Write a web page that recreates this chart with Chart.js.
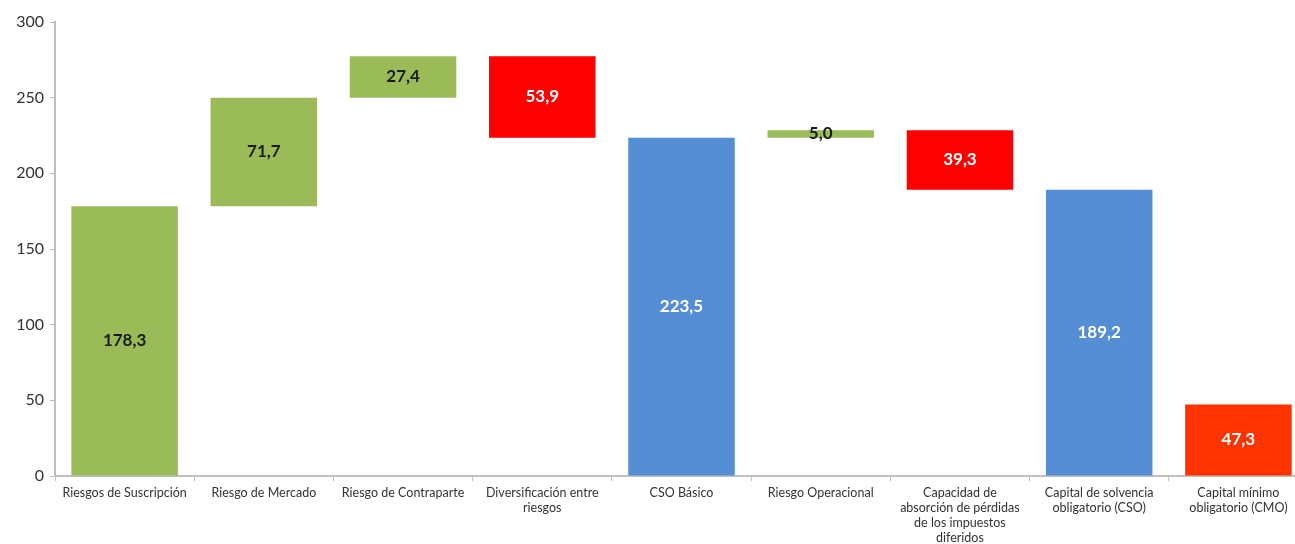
<!DOCTYPE html>
<html>
<head>
<meta charset="utf-8">
<script src="https://cdn.jsdelivr.net/npm/chart.js@4/dist/chart.umd.min.js"></script>
<style>
  html, body { margin: 0; padding: 0; background: #fff; overflow: hidden; }
  #wrap { width: 1308px; height: 544px; }
</style>
</head>
<body>
<div id="wrap"><canvas id="chart"></canvas></div>
<script>
const categories = [
    'Riesgos de Suscripción',
    'Riesgo de Mercado',
    'Riesgo de Contraparte',
    ['Diversificación entre', 'riesgos'],
    'CSO Básico',
    'Riesgo Operacional',
    ['Capacidad de', 'absorción de pérdidas', 'de los impuestos', 'diferidos'],
    ['Capital de solvencia', 'obligatorio (CSO)'],
    ['Capital mínimo', 'obligatorio (CMO)']
];
const barStart = [0, 178.3, 250.0, 223.5, 0, 223.5, 189.2, 0, 0];
const barEnd = [178.3, 250.0, 277.4, 277.4, 223.5, 228.5, 228.5, 189.2, 47.3];
const barLabels = ['178,3', '71,7', '27,4', '53,9', '223,5', '5,0', '39,3', '189,2', '47,3'];
const barColors = ['#9BBB59', '#9BBB59', '#9BBB59', '#FF0000', '#558ED5', '#9BBB59', '#FF0000', '#558ED5', '#FF3300'];
const labelColors = ['#1a1a1a', '#1a1a1a', '#1a1a1a', '#ffffff', '#ffffff', '#1a1a1a', '#ffffff', '#ffffff', '#ffffff'];
const yTicks = [0, 50, 100, 150, 200, 250, 300];

const fontFamily = 'Lato, "Noto Sans", sans-serif';

// draws the value inside each floating bar
const barValuePlugin = {
    id: 'barValues',
    afterDatasetsDraw(chart) {
        const ctx = chart.ctx;
        const meta = chart.getDatasetMeta(0);
        ctx.save();
        ctx.font = 'bold 17px ' + fontFamily;
        ctx.textAlign = 'center';
        ctx.textBaseline = 'middle';
        meta.data.forEach((bar, i) => {
            const p = bar.getProps(['x', 'y', 'base'], true);
            ctx.fillStyle = labelColors[i];
            ctx.fillText(barLabels[i], p.x, (p.y + p.base) / 2);
        });
        ctx.restore();
    }
};

new Chart(document.getElementById('chart'), {
    type: 'bar',
    data: {
        labels: categories,
        datasets: [{
            data: barStart.map((s, i) => [s, barEnd[i]]),
            backgroundColor: barColors,
            borderWidth: 0,
            categoryPercentage: 1,
            barPercentage: 0.765
        }]
    },
    options: {
        responsive: true,
        maintainAspectRatio: false,
        animation: false,
        layout: { padding: { top: 22, right: 0, left: 0, bottom: 0 } },
        plugins: {
            legend: { display: false },
            tooltip: { enabled: false }
        },
        scales: {
            x: {
                grid: {
                    display: true,
                    offset: true,
                    drawOnChartArea: false,
                    drawTicks: true,
                    tickLength: 5,
                    color: '#bfbfbf'
                },
                border: { color: '#bfbfbf', width: 2 },
                ticks: {
                    color: '#333',
                    font: { family: fontFamily, size: 12.5 },
                    maxRotation: 0,
                    autoSkip: false,
                    padding: 4
                },
                afterFit(scale) { scale.height = 68; }
            },
            y: {
                min: 0,
                max: 300,
                afterBuildTicks(scale) { scale.ticks = yTicks.map(v => ({ value: v })); },
                grid: {
                    display: true,
                    drawOnChartArea: false,
                    drawTicks: true,
                    tickLength: 5,
                    color: '#bfbfbf'
                },
                border: { color: '#bfbfbf', width: 2 },
                ticks: {
                    color: '#333',
                    font: { family: fontFamily, size: 16 },
                    padding: 6
                },
                afterFit(scale) { scale.width = 55; }
            }
        }
    },
    plugins: [barValuePlugin]
});
</script>
</body>
</html>
